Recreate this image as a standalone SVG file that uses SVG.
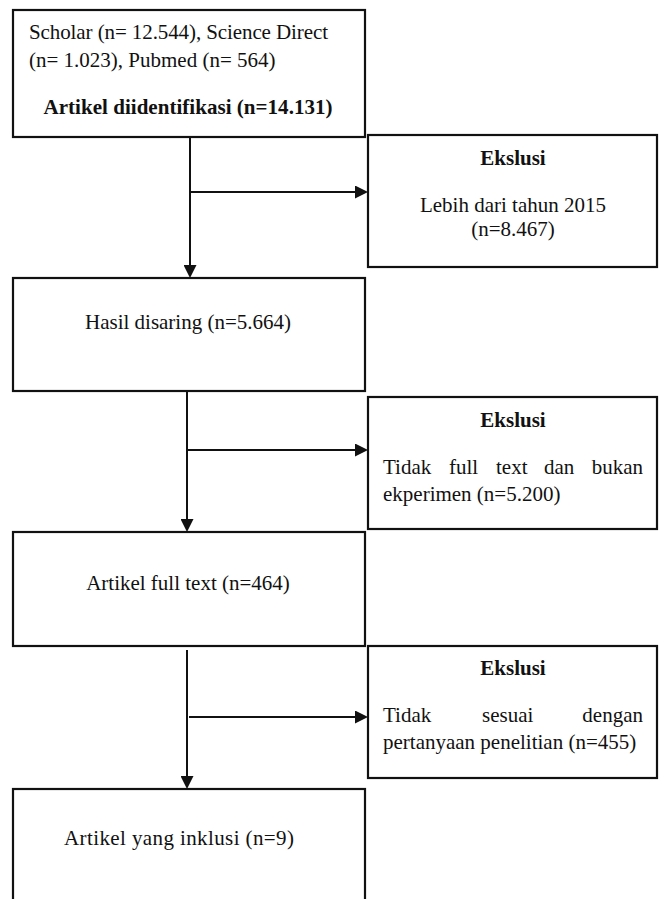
<svg xmlns="http://www.w3.org/2000/svg" width="659" height="899" viewBox="0 0 659 899">
<style>
.box{fill:#fff;stroke:#111;stroke-width:2.2}
.t{font-family:"Liberation Serif","Times New Roman",serif;font-size:21px;fill:#111}
.b{font-weight:bold}
.c{text-anchor:middle}
.e{text-anchor:end}
.con{stroke:#111;stroke-width:2;fill:none}
</style>
<defs>
<marker id="ah" markerUnits="userSpaceOnUse" markerWidth="13" markerHeight="13" refX="6" refY="6.5" orient="auto">
<path d="M0,0 L13,6.5 L0,13 Z" fill="#111"/>
</marker>
</defs>
<rect width="659" height="899" fill="#fff"/>
<g id="connectors">
<line class="con" x1="190" y1="137" x2="190" y2="271" marker-end="url(#ah)"/>
<line class="con" x1="190" y1="192" x2="361" y2="192" marker-end="url(#ah)"/>
<line class="con" x1="187" y1="391" x2="187" y2="525" marker-end="url(#ah)"/>
<line class="con" x1="187" y1="450" x2="361" y2="450" marker-end="url(#ah)"/>
<line class="con" x1="187" y1="650" x2="187" y2="782" marker-end="url(#ah)"/>
<line class="con" x1="189" y1="717" x2="361" y2="717" marker-end="url(#ah)"/>
</g>
<g id="n1">
<rect class="box" x="13" y="10" width="352" height="127"/>
<text class="t" x="29" y="39" textLength="299">Scholar (n= 12.544), Science Direct</text>
<text class="t" x="29" y="67">(n= 1.023), Pubmed (n= 564)</text>
<text class="t b c" x="188" y="114" textLength="289">Artikel diidentifikasi (n=14.131)</text>
</g>
<g id="x1">
<rect class="box" x="368" y="135" width="289" height="132"/>
<text class="t b c" x="513" y="165">Ekslusi</text>
<text class="t c" x="513" y="212">Lebih dari tahun 2015</text>
<text class="t c" x="513" y="236">(n=8.467)</text>
</g>
<g id="n2">
<rect class="box" x="13" y="278" width="352" height="113"/>
<text class="t c" x="188" y="329">Hasil disaring (n=5.664)</text>
</g>
<g id="x2">
<rect class="box" x="368" y="397" width="289" height="132"/>
<text class="t b c" x="513" y="427">Ekslusi</text>
<text class="t" y="474"><tspan x="383">Tidak</tspan><tspan x="449">full</tspan><tspan x="496">text</tspan><tspan x="544">dan</tspan></text>
<text class="t e" x="643" y="474">bukan</text>
<text class="t" x="383" y="501">ekperimen (n=5.200)</text>
</g>
<g id="n3">
<rect class="box" x="13" y="532" width="352" height="114"/>
<text class="t c" x="188" y="590">Artikel full text (n=464)</text>
</g>
<g id="x3">
<rect class="box" x="368" y="646" width="289" height="132"/>
<text class="t b c" x="513" y="675">Ekslusi</text>
<text class="t" x="383" y="722">Tidak</text>
<text class="t" x="482" y="722">sesuai</text>
<text class="t e" x="643" y="722">dengan</text>
<text class="t" x="383" y="749">pertanyaan penelitian (n=455)</text>
</g>
<g id="n4">
<rect class="box" x="13" y="789" width="352" height="130"/>
<text class="t c" x="179" y="845" textLength="230">Artikel yang inklusi (n=9)</text>
</g>
</svg>
